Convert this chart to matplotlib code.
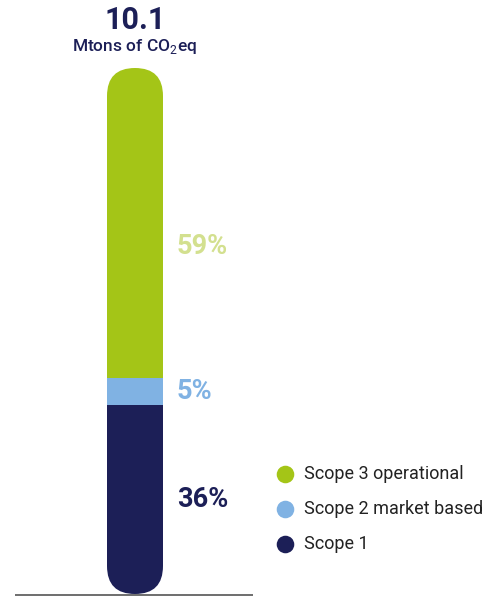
import matplotlib
matplotlib.use("Agg")
import matplotlib.pyplot as plt
from matplotlib.patches import FancyBboxPatch

plt.rcParams['font.family'] = ['Roboto', 'DejaVu Sans']
plt.rcParams['mathtext.fontset'] = 'custom'
plt.rcParams['mathtext.rm'] = 'Roboto'
plt.rcParams['mathtext.bf'] = 'Roboto:bold'

# Data
categories = ["Scope 1", "Scope 2 market based", "Scope 3 operational"]
shares = [36, 5, 59]
total_value = "10.1"
unit_label = "Mtons of CO$_2$eq"
legend_order = ["Scope 3 operational", "Scope 2 market based", "Scope 1"]

colors = {"Scope 1": "#1C1F57", "Scope 2 market based": "#80B2E3",
          "Scope 3 operational": "#A4C517"}
label_colors = {"Scope 1": "#1C1F57", "Scope 2 market based": "#80B2E3",
                "Scope 3 operational": "#D3E08F"}

W, H = 489, 596
fig = plt.figure(figsize=(W / 100, H / 100), dpi=100)

# Bar axes: y in percent, x in pixels
bar_bottom_px, bar_top_px = 2, 528
ax = fig.add_axes([0, bar_bottom_px / H, 1, (bar_top_px - bar_bottom_px) / H])
ax.set_xlim(0, W)
ax.set_ylim(0, sum(shares))
ax.axis('off')

bx, bw = 107, 56
clip = FancyBboxPatch((bx, 0), bw, sum(shares),
                      boxstyle="round,pad=0,rounding_size=28",
                      mutation_aspect=sum(shares) / (bar_top_px - bar_bottom_px),
                      transform=ax.transData, facecolor='none', edgecolor='none')
ax.add_patch(clip)

bottom = 0
for cat, val in zip(categories, shares):
    bars = ax.bar(bx + bw / 2, val, width=bw, bottom=bottom,
                  color=colors[cat], linewidth=0)
    for b in bars:
        b.set_clip_path(clip)
    ymid = bottom + val / 2
    if bottom + val >= sum(shares):
        ymid -= 4.5
    ax.text(177, ymid, f"{val}%", color=label_colors[cat], fontsize=19.5,
            fontweight='bold', ha='left', va='center')
    bottom += val

# Overlay axes in pixel coordinates
ov = fig.add_axes([0, 0, 1, 1])
ov.set_xlim(0, W)
ov.set_ylim(H, 0)
ov.axis('off')
ov.patch.set_alpha(0)

ov.plot([15, 253], [595, 595], color='#555555', linewidth=1.2, solid_capstyle='butt')

ov.text(135, 20, total_value, ha='center', va='center', fontsize=22,
        fontweight='bold', color='#1C1F57')
ov.text(135, 46, unit_label, ha='center', va='center', fontsize=12.5,
        fontweight='medium', color='#1C1F57')

for i, cat in enumerate(legend_order):
    y = 474 + i * 35
    ov.scatter([285], [y], s=160, color=colors[cat], linewidths=0)
    ov.text(304, y, cat, ha='left', va='center', fontsize=13, color='#222222')

fig.savefig("out.png", dpi=100)
